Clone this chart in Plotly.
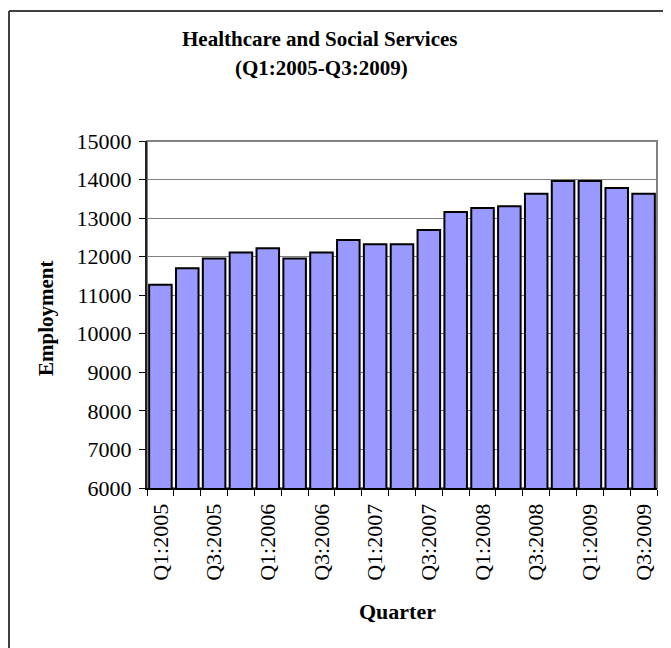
import plotly.graph_objects as go

quarters = ["Q1:2005", "Q2:2005", "Q3:2005", "Q4:2005",
            "Q1:2006", "Q2:2006", "Q3:2006", "Q4:2006",
            "Q1:2007", "Q2:2007", "Q3:2007", "Q4:2007",
            "Q1:2008", "Q2:2008", "Q3:2008", "Q4:2008",
            "Q1:2009", "Q2:2009", "Q3:2009"]
employment = [11270, 11700, 11950, 12110, 12220, 11950, 12110, 12430,
              12320, 12320, 12690, 13160, 13260, 13310, 13630, 13960,
              13960, 13780, 13630]
tick_text = [q if i % 2 == 0 else "" for i, q in enumerate(quarters)]
y_ticks = [6000, 7000, 8000, 9000, 10000, 11000, 12000, 13000, 14000, 15000]
y_tick_text = [str(v) for v in y_ticks]

# page is offset by the default 8px body margin
OFF = 8
PW, PH = 671, 648
W, H = PW - OFF, PH - OFF
L, R, T, B = 147, 657, 141, 488   # plot area in page pixels
FONT = "Liberation Serif, Times New Roman, serif"

def px(x):
    return (x - L) / (R - L)

def py(y):
    return (B - y) / (B - T)

fig = go.Figure()
fig.add_trace(go.Bar(
    x=quarters, y=employment,
    marker=dict(color="#9999FF", line=dict(color="#000000", width=2)),
))

fig.update_layout(
    width=W, height=H,
    margin=dict(l=L - OFF, r=PW - R, t=T - OFF, b=PH - B, pad=0, autoexpand=False),
    paper_bgcolor="white", plot_bgcolor="white",
    bargap=0.16,
    showlegend=False,
    font=dict(family=FONT, color="black"),
    shapes=[
        dict(type="rect", xref="paper", yref="paper", x0=0, x1=1, y0=0, y1=1,
             line=dict(color="#808080", width=2), layer="below"),
        dict(type="line", xref="paper", yref="paper", x0=px(9), x1=px(700),
             y0=py(11), y1=py(11), line=dict(color="#404040", width=2)),
        dict(type="line", xref="paper", yref="paper", x0=px(9), x1=px(9),
             y0=py(11), y1=py(700), line=dict(color="#404040", width=2)),
    ],
    annotations=[
        dict(text="<b>Healthcare and Social Services</b>",
             xref="paper", yref="paper", x=px(320), y=py(39),
             xanchor="center", yanchor="middle", showarrow=False,
             font=dict(family=FONT, size=21, color="black")),
        dict(text="<b>(Q1:2005-Q3:2009)</b>",
             xref="paper", yref="paper", x=px(321), y=py(68),
             xanchor="center", yanchor="middle", showarrow=False,
             font=dict(family=FONT, size=21, color="black")),
        dict(text="<b>Employment</b>", textangle=-90,
             xref="paper", yref="paper", x=px(46), y=py(318),
             xanchor="center", yanchor="middle", showarrow=False,
             font=dict(family=FONT, size=21, color="black")),
        dict(text="<b>Quarter</b>",
             xref="paper", yref="paper", x=px(397), y=py(611),
             xanchor="center", yanchor="middle", showarrow=False,
             font=dict(family=FONT, size=22, color="black")),
    ],
)

fig.update_xaxes(
    type="category",
    tickmode="array", tickvals=quarters, ticktext=tick_text,
    tickson="boundaries", ticks="outside", ticklen=6, tickwidth=1,
    tickcolor="black", tickangle=-90,
    tickfont=dict(family=FONT, size=22, color="black"),
    ticklabelstandoff=5,
    showline=True, linecolor="black", linewidth=2,
    showgrid=False, zeroline=False,
)
fig.update_yaxes(
    range=[6000, 15000],
    tickmode="array", tickvals=y_ticks, ticktext=y_tick_text,
    ticks="outside", ticklen=6, tickwidth=1, tickcolor="black",
    tickfont=dict(family=FONT, size=22, color="black"),
    ticklabelstandoff=3,
    showline=True, linecolor="#222222", linewidth=2,
    showgrid=True, gridcolor="#808080", gridwidth=1,
    zeroline=False,
)

fig.write_html("out.html")
